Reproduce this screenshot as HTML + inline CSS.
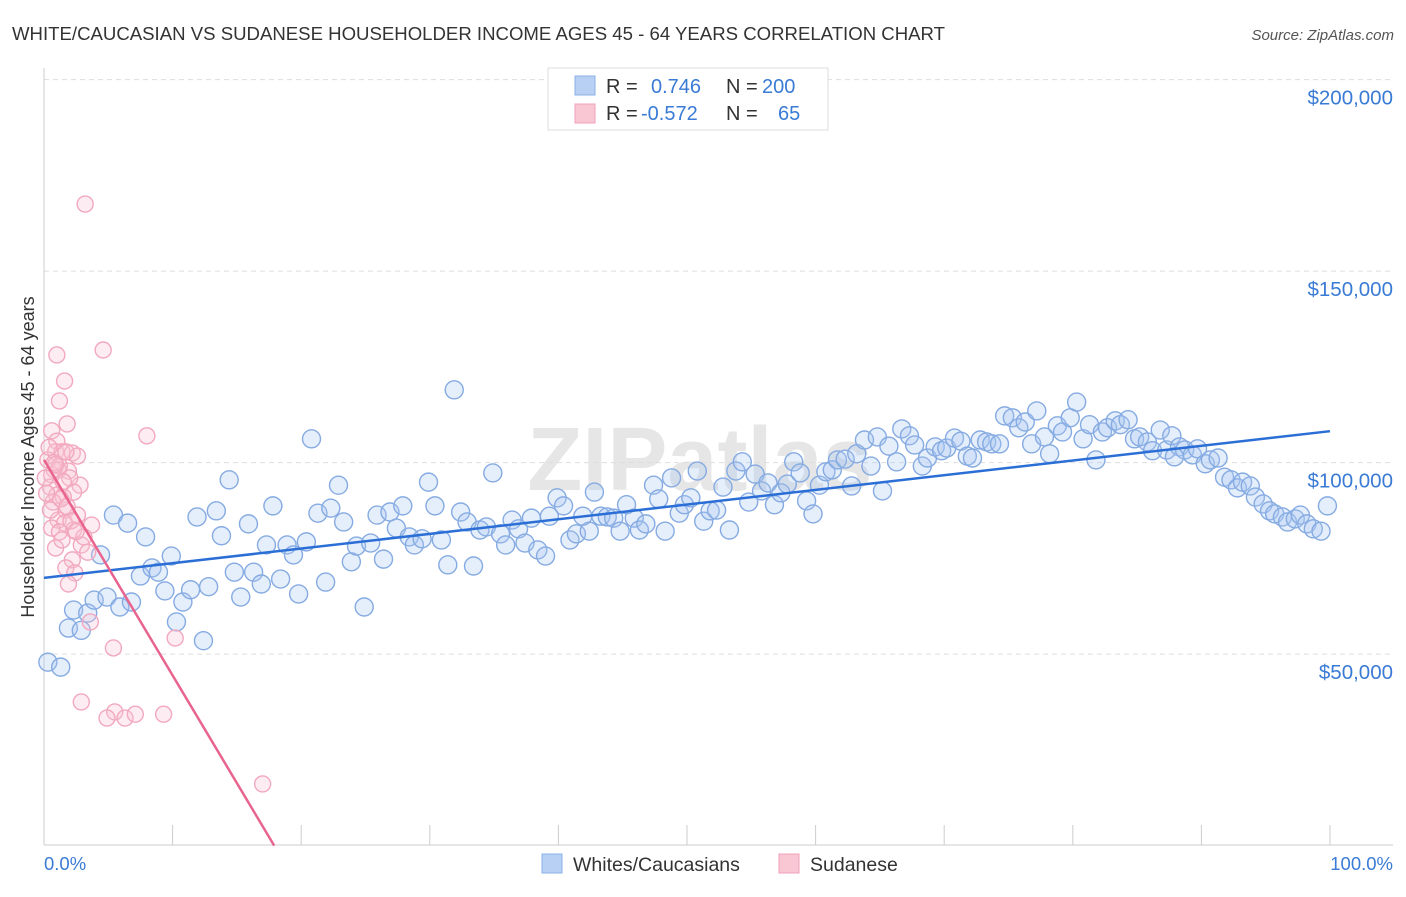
<!DOCTYPE html>
<html><head><meta charset="utf-8"><style>
body{margin:0;background:#fff;font-family:"Liberation Sans",sans-serif}
svg text{font-family:"Liberation Sans",sans-serif}
</style></head><body>
<svg id="c" width="1406" height="892" xmlns="http://www.w3.org/2000/svg">
<text x="12" y="40" font-size="18.6" fill="#333">WHITE/CAUCASIAN VS SUDANESE HOUSEHOLDER INCOME AGES 45 - 64 YEARS CORRELATION CHART</text>
<text x="1394" y="40" font-size="15" fill="#555" font-style="italic" text-anchor="end">Source: ZipAtlas.com</text>
<text x="700" y="490" font-size="90" fill="#e6e6e6" text-anchor="middle" font-weight="bold" font-family="Liberation Serif">ZIPatlas</text>
<g id="grid"></g>
<line x1="44" y1="68" x2="44" y2="845" stroke="#ccc"/>
<line x1="44" y1="845" x2="1393" y2="845" stroke="#ccc"/>
<text transform="translate(34,457) rotate(-90)" font-size="18" fill="#333" text-anchor="middle">Householder Income Ages 45 - 64 years</text>
<text x="44" y="870" font-size="18.5" fill="#3a7bd5">0.0%</text>
<text x="1393" y="870" font-size="18.5" fill="#3a7bd5" text-anchor="end">100.0%</text>
<g id="pts"></g><g id="lines"></g>
<g>
<rect x="548" y="68" width="280" height="62" fill="#fff" stroke="#ddd"/>
<rect x="575" y="76" width="20" height="19" fill="#b8d0f4" stroke="#8ab0e6"/>
<rect x="575" y="104" width="20" height="19" fill="#f9c6d4" stroke="#f0a0b8"/>
<text x="606" y="93" font-size="20" fill="#333">R =</text><text x="651" y="93" font-size="20" fill="#3a7bd5">0.746</text>
<text x="726" y="93" font-size="20" fill="#333">N =</text><text x="762" y="93" font-size="20" fill="#3a7bd5">200</text>
<text x="606" y="120" font-size="20" fill="#333">R =</text><text x="641" y="120" font-size="20" fill="#3a7bd5">-0.572</text>
<text x="726" y="120" font-size="20" fill="#333">N =</text><text x="778" y="120" font-size="20" fill="#3a7bd5">65</text>
</g>
<g>
<rect x="542" y="854" width="20" height="19" fill="#b8d0f4" stroke="#8ab0e6"/>
<text x="573" y="871" font-size="19.5" fill="#333">Whites/Caucasians</text>
<rect x="779" y="854" width="20" height="19" fill="#f9c6d4" stroke="#f0a0b8"/>
<text x="810" y="871" font-size="19.5" fill="#333">Sudanese</text>
</g>
</svg>
<script>
const yTicks=[50000,100000,150000,200000];
const yTickLabels=["$50,000","$100,000","$150,000","$200,000"];
const xTicks=[0,10,20,30,40,50,60,70,80,90,100];
const blueX=[0.3,1.3,1.9,2.9,2.3,3.4,3.9,4.4,4.9,5.4,5.9,6.5,6.8,7.5,7.9,8.4,8.9,9.4,9.9,10.3,10.8,11.4,11.9,12.4,12.8,13.4,13.8,14.4,14.8,15.3,15.9,16.3,16.9,17.3,17.8,18.4,18.9,19.4,19.8,20.4,20.8,21.3,21.9,22.3,22.9,23.3,23.9,24.3,24.9,25.4,25.9,26.4,26.9,27.4,27.9,28.4,28.8,29.4,29.9,30.4,30.9,31.4,31.9,32.4,32.9,33.4,33.9,34.4,34.9,35.5,35.9,36.4,36.9,37.4,37.9,38.4,39.0,39.3,39.9,40.4,40.9,41.4,41.9,42.4,42.8,43.3,43.8,44.3,44.8,45.3,45.9,46.3,46.8,47.4,47.8,48.3,48.8,49.4,49.8,50.3,50.8,51.3,51.8,52.3,52.8,53.3,53.8,54.3,54.8,55.3,55.8,56.3,56.8,57.3,57.8,58.3,58.8,59.3,59.8,60.3,60.8,61.3,61.7,62.3,62.8,63.2,63.8,64.3,64.8,65.2,65.7,66.3,66.7,67.3,67.7,68.3,68.7,69.3,69.8,70.2,70.8,71.3,71.8,72.2,72.8,73.3,73.7,74.3,74.7,75.3,75.8,76.3,76.8,77.2,77.8,78.2,78.8,79.2,79.8,80.3,80.8,81.3,81.8,82.3,82.7,83.3,83.7,84.3,84.8,85.2,85.8,86.2,86.8,87.3,87.7,88.3,88.7,89.3,89.7,90.3,90.7,91.3,91.8,92.3,92.8,93.2,93.8,94.2,94.8,95.3,95.7,96.3,96.7,97.3,97.7,98.2,98.7,99.3,99.8,87.9];
const blueY=[47.9,46.6,56.8,56.2,61.5,60.7,64.1,75.9,64.9,86.3,62.3,84.2,63.6,70.4,80.6,72.5,71.4,66.5,75.6,58.4,63.6,66.8,85.8,53.5,67.6,87.4,80.9,95.5,71.4,64.9,84.0,71.4,68.3,78.5,88.7,69.6,78.5,75.9,65.7,79.3,106.2,86.8,68.8,88.1,94.1,84.5,74.1,78.2,62.3,79.0,86.3,74.8,87.1,82.9,88.7,80.6,78.5,80.1,94.9,88.7,79.8,73.3,119.0,87.1,84.5,73.0,82.4,83.2,97.3,81.4,78.5,85.0,82.7,79.0,85.5,77.2,75.6,86.0,90.8,88.7,79.8,81.4,86.0,82.1,92.3,86.0,85.8,85.5,82.1,89.0,85.5,82.4,84.0,94.1,90.5,82.1,96.0,86.8,89.0,90.8,97.8,84.7,87.4,87.6,93.6,82.4,97.8,100.2,89.7,97.0,92.6,94.7,89.0,92.1,94.4,100.2,97.3,90.0,86.6,94.1,97.6,98.1,100.7,100.9,93.9,102.3,105.9,99.1,106.7,92.6,104.3,100.2,108.8,107.0,104.6,99.1,101.2,104.1,103.1,103.8,106.4,105.6,101.7,101.2,105.9,105.4,104.9,104.9,112.2,111.7,109.1,110.6,104.9,113.5,106.7,102.3,109.6,108.0,111.7,115.8,106.2,109.9,100.7,108.0,109.1,110.9,109.9,111.2,106.2,106.7,105.4,103.1,108.5,103.3,107.0,104.1,103.3,102.0,103.6,99.7,100.7,101.2,96.2,95.5,93.4,94.9,93.9,91.0,89.2,87.4,86.6,85.8,84.5,85.3,86.3,84.0,82.7,82.1,88.7,101.5];
const pinkX=[3.2,4.6,1.0,1.6,1.2,1.8,0.6,8.0,1.0,0.9,1.4,2.2,2.6,0.3,1.2,0.8,1.9,0.6,2.8,0.5,2.3,1.0,1.5,0.7,1.7,2.6,1.1,1.6,3.7,0.6,2.3,1.2,2.9,0.9,3.4,2.2,1.7,2.4,1.9,3.6,10.2,5.4,2.9,5.5,4.9,6.3,7.1,9.3,17.0,0.5,1.4,1.1,1.7,2.0,3.1,0.1,0.4,1.3,2.1,0.8,1.5,2.5,0.2,1.8,0.9];
const pinkY=[167.5,129.4,128.1,121.3,116.1,110.1,108.3,107.0,105.6,102.8,102.8,102.5,101.7,100.7,99.1,98.1,97.8,96.8,94.1,93.6,92.3,91.5,91.0,89.7,87.6,86.3,85.0,84.2,83.7,82.9,82.4,81.9,78.5,77.7,76.6,74.6,72.5,71.2,68.3,58.4,54.2,51.6,37.5,34.9,33.3,33.3,34.3,34.3,16.1,87.6,79.8,98.1,102.8,96.0,80.6,96.0,104.0,90.5,84.8,100.0,95.0,82.0,92.0,88.5,99.5];
const blueLine=[[0,69.9],[100,108.2]];
const pinkLine=[[0,100.7],[17.9,0]];
const NS="http://www.w3.org/2000/svg";
const sx=v=>44+v*12.86;
function Y(k){return 845.6-k*191.5/50;}
function mk(t,a,p){const e=document.createElementNS(NS,t);for(const k in a)e.setAttribute(k,a[k]);p.appendChild(e);return e;}
const grid=document.getElementById('grid');
yTicks.forEach((v,i)=>{
  const l=mk('line',{x1:44,x2:1393,y1:Y(v/1000),y2:Y(v/1000),stroke:'#ddd','stroke-dasharray':'5,4'},grid);
  
  
  const t=mk('text',{x:1393,y:Y(v/1000)+25,'font-size':20.5,fill:'#3a7bd5','text-anchor':'end'},grid);
  t.textContent=yTickLabels[i];
  
  
});
xTicks.forEach(v=>{
  const l=mk('line',{x1:sx(v),x2:sx(v),y1:825,y2:845,stroke:'#ccc'},grid);
  
  
});
const pts=document.getElementById('pts');
blueX.forEach((x,i)=>{
  const c=mk('circle',{cx:sx(x),cy:Y(blueY[i]),r:9,fill:'rgba(170,198,242,0.3)',stroke:'#86abe2','stroke-width':1.4},pts);
  
  
});
pinkX.forEach((x,i)=>{
  const c=mk('circle',{cx:sx(x),cy:Y(pinkY[i]),r:8,fill:'rgba(248,195,212,0.3)',stroke:'#f2a8bf','stroke-width':1.4},pts);
  
  
});
const lg=document.getElementById('lines');
const bl=mk('line',{x1:sx(blueLine[0][0]),y1:Y(blueLine[0][1]),x2:sx(blueLine[1][0]),y2:Y(blueLine[1][1]),stroke:'#2b6fd6','stroke-width':2.5},lg);


const pl=mk('line',{x1:sx(pinkLine[0][0]),y1:Y(pinkLine[0][1]),x2:sx(pinkLine[1][0]),y2:Y(pinkLine[1][1]),stroke:'#e8648e','stroke-width':2.5},lg);


</script>
</body></html>
